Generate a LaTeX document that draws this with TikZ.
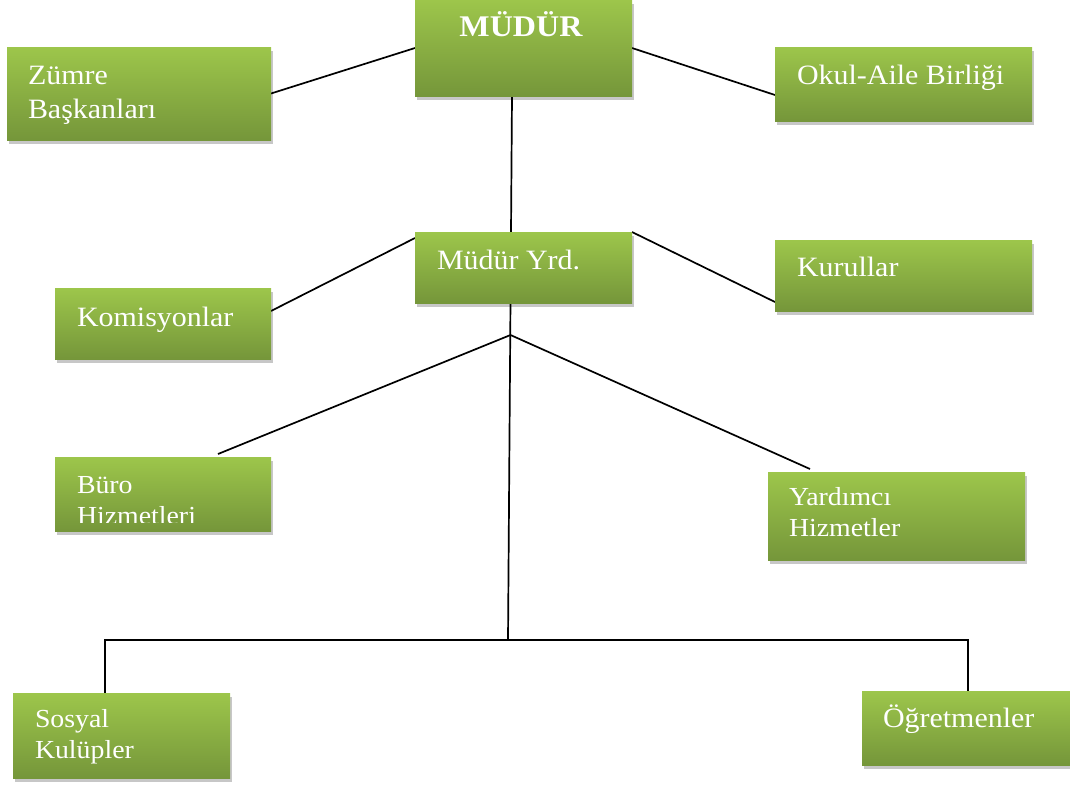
\documentclass[tikz,border=0pt]{standalone}
\usepackage{fontspec}
\setmainfont[FakeStretch=1.07]{Liberation Serif}
\usetikzlibrary{shadows}
\pgfdeclarelayer{background}
\pgfsetlayers{background,main}
\definecolor{gtop}{HTML}{9DC64B}
\definecolor{gbot}{HTML}{75963A}
\tikzset{
  gbox/.style={rectangle, inner sep=0pt, outer sep=0pt, top color=gtop, bottom color=gbot,
    drop shadow={shadow xshift=2pt, shadow yshift=-4pt, fill=black, opacity=0.22}},
  lbl/.style={inner sep=0pt, outer sep=0pt, text=white, align=left, anchor=base west,
    font=\fontsize{28}{34}\selectfont},
  slbl/.style={lbl, font=\fontsize{26}{31}\selectfont},
  conn/.style={line width=1.7pt, black}
}
\begin{document}
\begin{tikzpicture}[x=1pt,y=-1pt]
\useasboundingbox (0,0) rectangle (1070,785);
% boxes
\node[gbox, minimum width=217pt, minimum height=96pt] (mudur) at (523.5,48) {};
\node[gbox, minimum width=264pt, minimum height=93pt] (zumre) at (139,93.5) {};
\node[gbox, minimum width=257pt, minimum height=74pt] (okul) at (903.5,84) {};
\node[gbox, minimum width=217pt, minimum height=71pt] (myrd) at (523.5,267.5) {};
\node[gbox, minimum width=257pt, minimum height=71pt] (kur) at (903.5,275.5) {};
\node[gbox, minimum width=216pt, minimum height=71pt] (kom) at (163,323.5) {};
\node[gbox, minimum width=216pt, minimum height=74pt] (buro) at (163,494) {};
\node[gbox, minimum width=257pt, minimum height=88pt] (yard) at (896.5,516) {};
\node[gbox, minimum width=217pt, minimum height=85pt] (sos) at (121.5,735.5) {};
\node[gbox, minimum width=218pt, minimum height=74pt] (ogr) at (971,728) {};
% labels (multi-line nodes: base = last line)
\node[lbl, anchor=base, font=\bfseries\fontsize{30}{34}\selectfont] (t-mudur) at (521,36) {MÜDÜR};
\node[lbl] (t-zumre) at (28,118) {Zümre\\Başkanları};
\node[lbl] (t-okul) at (797,84) {Okul-Aile Birliği};
\node[lbl] (t-myrd) at (437,269) {Müdür Yrd.};
\node[lbl] (t-kur) at (797,276) {Kurullar};
\node[lbl] (t-kom) at (77,326) {Komisyonlar};
\begin{scope}
\clip (55,457) rectangle (271,522);
\node[slbl] (t-buro) at (77,524) {Büro\\Hizmetleri};
\end{scope}
\node[slbl] (t-yard) at (789,536) {Yardımcı\\Hizmetler};
\node[slbl] (t-sos) at (35,758) {Sosyal\\Kulüpler};
\node[lbl] (t-ogr) at (883,727) {Öğretmenler};
% connectors
\coordinate (j) at (510.5,335);
\coordinate (vb) at (508,640);
\coordinate (hl) at (105,640);
\coordinate (hr) at (968,640);
\begin{pgfonlayer}{background}
\draw[conn] (mudur.west) -- (zumre.east);
\draw[conn] (mudur.east) -- ([yshift=-11pt]okul.west);
\draw[conn] ([xshift=-11.5pt]mudur.south) -- (vb);
\draw[conn] ([yshift=-6pt]myrd.north west) -- ([yshift=12.5pt]kom.east);
\draw[conn] (myrd.north east) -- ([yshift=9pt]kur.south west);
\draw[conn] (j) -- ([xshift=55pt,yshift=3pt]buro.north);
\draw[conn] (j) -- ([xshift=-86.5pt,yshift=3pt]yard.north);
\draw[conn] ([xshift=-16.5pt]sos.north) -- (hl) -- (hr) -- ([xshift=-3pt]ogr.north);
\end{pgfonlayer}
\end{tikzpicture}
\end{document}
